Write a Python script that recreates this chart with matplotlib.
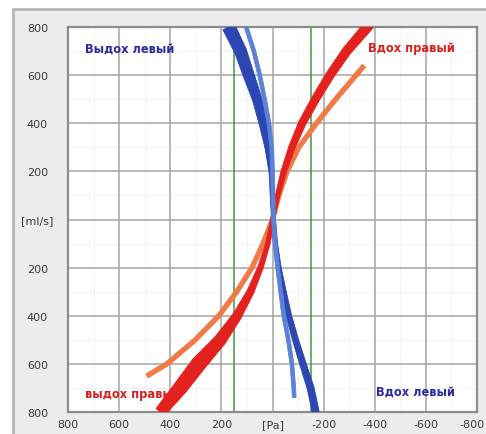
import numpy as np
import matplotlib
matplotlib.use('Agg')
import matplotlib.pyplot as plt
import matplotlib.transforms as mtransforms
from matplotlib.patches import Rectangle, Polygon

# потоки (ml/s) и давление (Pa)
flow_blue = [800, 700, 600, 500, 400, 300, 200, 100, 0, -100, -200, -300, -400, -500, -600, -700, -800]
pa_blue = [171, 125, 93, 60, 37, 18, 5, 1, -4, -12, -25, -44, -64, -90, -119, -149, -169]

flow_lblue = [800, 700, 600, 500, 400, 300, 200, 100, 0, -100, -200, -300, -400, -500, -600, -700, -740]
pa_lblue = [103, 73, 50, 31, 14, 3, 0, -2, -4, -10, -20, -32, -44, -62, -76, -83, -85]

flow_red = [820, 800, 700, 600, 500, 400, 300, 200, 100, 0, -100, -200, -300, -400, -500, -600, -700, -800]
pa_red = [-385, -371, -290, -225, -168, -116, -76, -44, -20, 0, 18, 47, 86, 138, 204, 289, 361, 439]

flow_orange = [639, 600, 500, 400, 300, 200, 100, 0, -100, -200, -300, -400, -500, -600, -650]
pa_orange = [-358, -327, -247, -172, -103, -57, -25, 0, 37, 80, 140, 210, 302, 413, 491]

green_pa = [150, -150]

xticks = [800, 600, 400, 200, 0, -200, -400, -600, -800]
xlabels = ['800', '600', '400', '200', '[Pa]', '-200', '-400', '-600', '-800']
yticks = [800, 600, 400, 200, 0, -200, -400, -600, -800]
ylabels = ['800', '600', '400', '200', '[ml/s]', '200', '400', '600', '800']

plt.rcParams['font.family'] = ['DejaVu Sans']

fig = plt.figure(figsize=(4.86, 4.35), dpi=100, facecolor='white')
# серая панель вокруг графика
fig.patches.append(Rectangle((13 / 486, -0.1), 1.0, 1 - 10 / 435 + 0.1, transform=fig.transFigure,
                             facecolor='#ececec', edgecolor='#b0b0b0', lw=1.8, zorder=-5))

ax = fig.add_axes([68 / 486, 1 - 413 / 435, (477 - 68) / 486, (413 - 28) / 435])
ax.set_zorder(1)
ax.set_facecolor('white')
ax.set_xlim(800, -800)
ax.set_ylim(-800, 800)


def band(xs, ys, widths, color, z):
    # пучок петель рисуем полосой переменной ширины (ширина в пикселях)
    pts = ax.transData.transform(np.column_stack([xs, ys]))
    t = np.gradient(pts, axis=0)
    t /= np.linalg.norm(t, axis=1)[:, None]
    n = np.column_stack([-t[:, 1], t[:, 0]])
    w = np.array(widths, dtype=float)[:, None] / 2
    poly = np.vstack([pts + n * w, (pts - n * w)[::-1]])
    ax.add_patch(Polygon(poly, closed=True, transform=mtransforms.IdentityTransform(),
                         facecolor=color, edgecolor=color, lw=0.6, joinstyle='round', zorder=z))


# сетка
for v in np.arange(-700, 800, 200):
    ax.axvline(v, color='#e2e2e2', lw=0.7, ls=':', zorder=1)
    ax.axhline(v, color='#e2e2e2', lw=0.7, ls=':', zorder=1)
for v in xticks:
    ax.axvline(v, color='#a4a4a4', lw=1.1, zorder=1)
for v in yticks:
    ax.axhline(v, color='#a4a4a4', lw=1.1, zorder=1)
for g in green_pa:
    ax.axvline(g, color='#3f9a3f', lw=1.1, zorder=2)

band(pa_orange, flow_orange, [4.5] * len(pa_orange), '#f07a45', 3)
band(pa_red, flow_red,
     [10, 10, 9, 8.5, 8, 7.5, 6.5, 5.5, 4.5, 4, 4.5, 5.5, 7, 9, 12, 15, 14, 11], '#e3221f', 4)
band(pa_blue, flow_blue,
     [13, 12, 11, 9.5, 8, 6, 4.5, 4, 4, 4, 4.5, 5, 5.5, 6, 6.5, 7, 7], '#2c46b4', 5)
band(pa_lblue, flow_lblue, [3.8] * len(pa_lblue), '#5b82d6', 6)

ax.set_xticks(xticks)
ax.set_xticklabels(xlabels)
ax.set_yticks(yticks)
ax.set_yticklabels(ylabels)
ax.tick_params(axis='both', length=0, labelsize=8, labelcolor='#3a3a3a')
ax.tick_params(axis='x', pad=5)
ax.tick_params(axis='y', pad=22)
for lab in ax.get_yticklabels():
    lab.set_horizontalalignment('center')
last = ax.get_xticklabels()[-1]
last.set_transform(last.get_transform() + mtransforms.ScaledTranslation(-5 / 100, 0, fig.dpi_scale_trans))

for sp in ax.spines.values():
    sp.set_color('#8c8c8c')
    sp.set_linewidth(1.6)

lbl = dict(fontsize=8.3, fontweight='bold', va='center', family='DejaVu Sans')
ax.text(733, 711, 'Выдох левый', color='#2c2c9c', zorder=7, **lbl)
ax.text(-373, 715, 'Вдох правый', color='#d8201e', zorder=7, **lbl)
ax.text(733, -723, 'выдох правый', color='#d8201e', zorder=3.5, **lbl)
ax.text(-404, -715, 'Вдох левый', color='#2c2c9c', zorder=7, **lbl)

fig.savefig('out.png', dpi=100, facecolor=fig.get_facecolor())
